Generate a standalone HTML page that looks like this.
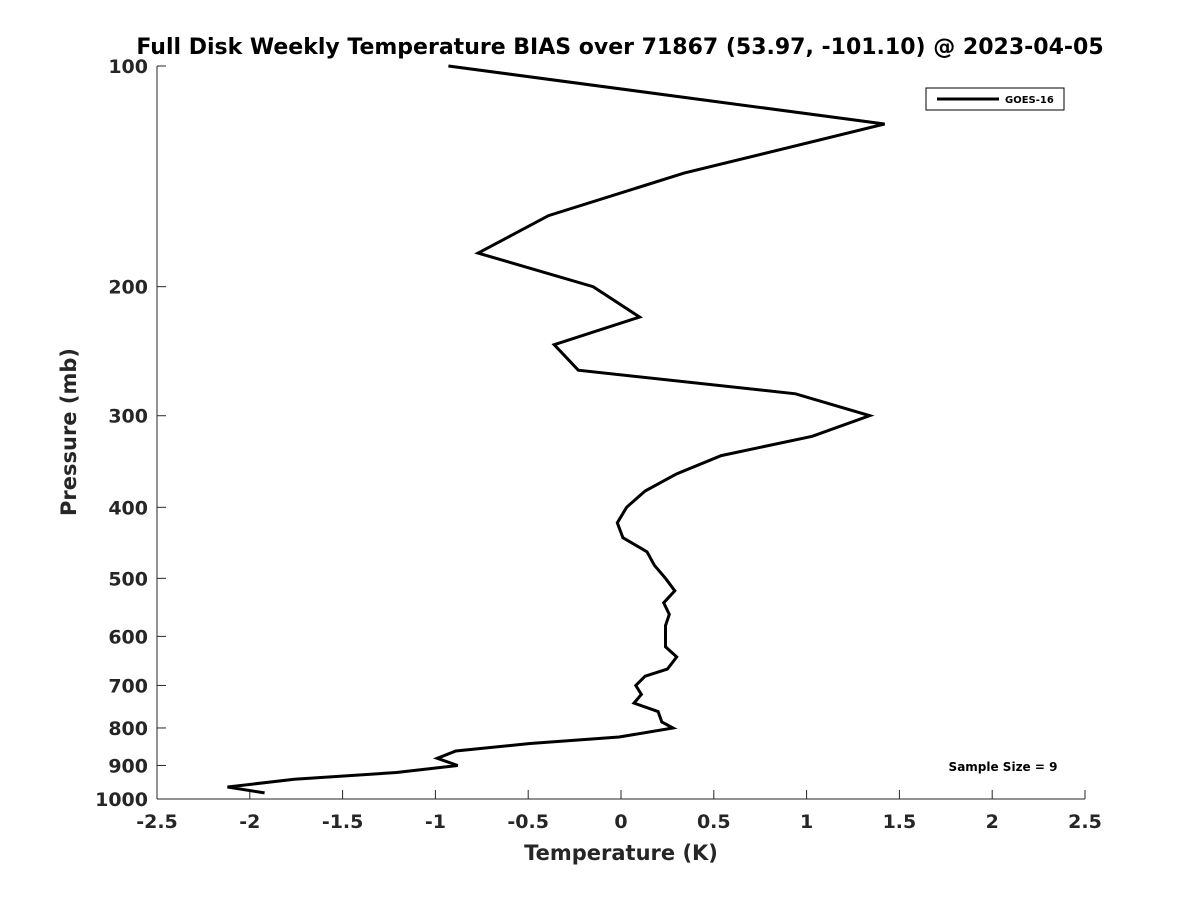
<!DOCTYPE html>
<html><head><meta charset="utf-8"><style>
body{margin:0;background:#fff;font-family:"Liberation Sans","DejaVu Sans",sans-serif}
</style></head><body>
<svg id="chart" width="1200" height="900" xmlns="http://www.w3.org/2000/svg" font-family="DejaVu Sans, Liberation Sans, sans-serif">
<rect width="1200" height="900" fill="#fff"/>
<text x="620" y="54" text-anchor="middle" font-size="22" font-weight="bold">Full Disk Weekly Temperature BIAS over 71867 (53.97, -101.10) @ 2023-04-05</text>
<g id="axes"></g>
<path id="series" fill="none" stroke="#000" stroke-width="3" stroke-linejoin="miter"/>
<g>
<rect x="926" y="88" width="138" height="22" fill="#fff" stroke="#000" stroke-width="1"/>
<line x1="937" y1="99" x2="999" y2="99" stroke="#000" stroke-width="3"/>
<text x="1005" y="103" font-size="10" font-weight="bold">GOES-16</text>
</g>
<text x="1003" y="771" text-anchor="middle" font-size="12" font-weight="bold">Sample Size = 9</text>
<text x="621" y="860" text-anchor="middle" font-size="21" font-weight="bold" fill="#262626">Temperature (K)</text>
<text transform="translate(76,432) rotate(-90)" text-anchor="middle" font-size="21" font-weight="bold" fill="#262626">Pressure (mb)</text>
</svg>
<script>
const temps=[-0.93,1.42,0.34,-0.39,-0.77,-0.15,0.10,-0.36,-0.23,0.94,1.34,1.03,0.54,0.30,0.13,0.03,-0.02,0.01,0.14,0.18,0.24,0.29,0.23,0.26,0.24,0.24,0.30,0.25,0.13,0.08,0.11,0.07,0.20,0.22,0.28,-0.01,-0.49,-0.89,-0.99,-0.88,-1.21,-1.76,-2.12,-1.92];
const pressures=[100,120,140,160,180,200,220,240,260,280,300,320,340,360,380,400,420,440,460,480,500,520,540,560,580,620,640,665,680,700,720,740,760,785,800,823,840,860,880,900,920,940,963,981];
const xTicks=[-2.5,-2,-1.5,-1,-0.5,0,0.5,1,1.5,2,2.5];
const yTicks=[100,200,300,400,500,600,700,800,900,1000];
const L=157,R=1085,T=66,B=799;
function xs(v){return L+(v+2.5)/5*(R-L);}
function ys(p){return T+(Math.log10(p)-2)*(B-T);}
const ns="http://www.w3.org/2000/svg";
const ax=document.getElementById('axes');
function mk(tag,attrs,txt){const e=document.createElementNS(ns,tag);for(const k in attrs)e.setAttribute(k,attrs[k]);if(txt!==undefined)e.textContent=txt;ax.appendChild(e);return e;}
let e=mk('line',{x1:L,y1:B,x2:R,y2:B,stroke:'#262626','stroke-width':1});


e=mk('line',{x1:L,y1:T,x2:L,y2:B,stroke:'#262626','stroke-width':1});


xTicks.forEach(v=>{const x=xs(v);
 let t=mk('line',{x1:x,y1:B,x2:x,y2:B-9,stroke:'#262626'});
 
 
 let l=mk('text',{x:x,y:B+29,'text-anchor':'middle','font-size':19,'font-weight':'bold',fill:'#262626'},String(v));
 
 
});
yTicks.forEach(p=>{const y=ys(p);
 let t=mk('line',{x1:L,y1:y,x2:L+9,y2:y,stroke:'#262626'});
 
 
 let l=mk('text',{x:L-9,y:y+7,'text-anchor':'end','font-size':19,'font-weight':'bold',fill:'#262626'},String(p));
 
 
});
document.getElementById('series').setAttribute('d',temps.map((t,i)=>(i?'L':'M')+xs(t).toFixed(1)+','+ys(pressures[i]).toFixed(1)).join(' '));
</script>
</body></html>
